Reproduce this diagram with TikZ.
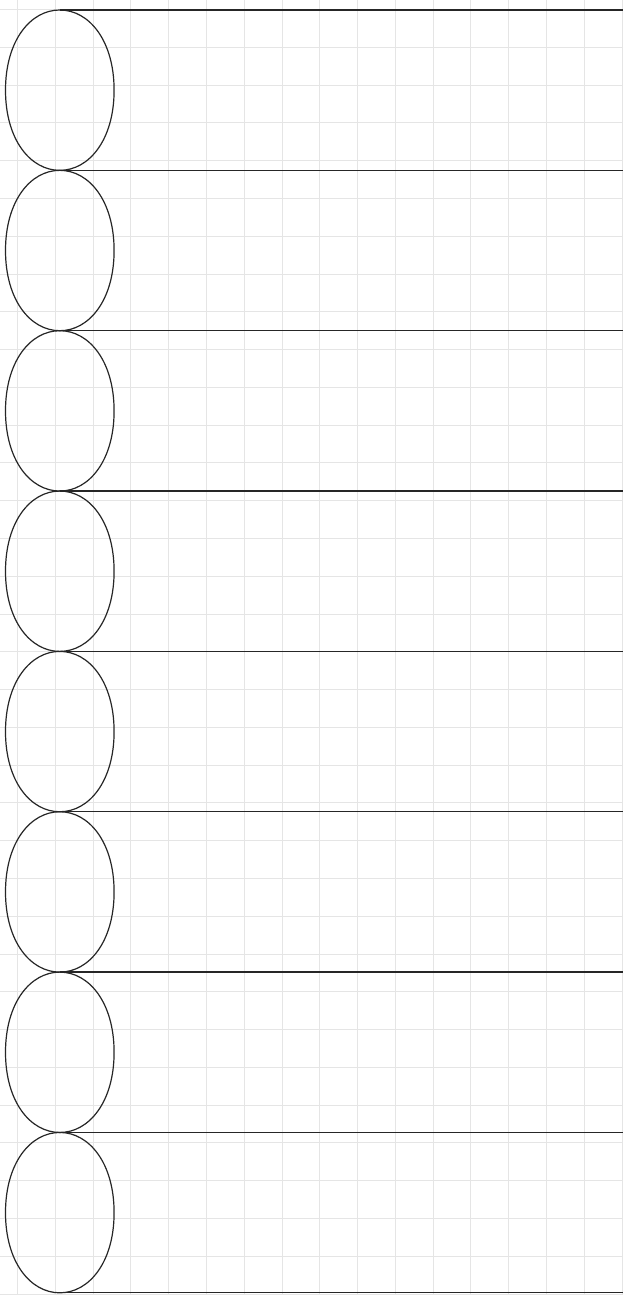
\documentclass[tikz,border=0pt]{standalone}
\begin{document}
\begin{tikzpicture}[x=1pt,y=-1pt,
  gridline/.style={draw=black!10,line width=0.9pt},
  eggline/.style={draw=black!85,line width=1.2pt},
  rowline/.style={draw=black!85,line width=1.3pt}]
\useasboundingbox (0,0) rectangle (623,1295);
\fill[white] (0,0) rectangle (623,1295);
% background grid
\foreach \k in {0,...,16} {
  \draw[gridline] ({17.5+37.78*\k},0) -- ({17.5+37.78*\k},1295);
}
\foreach \k in {0,...,34} {
  \draw[gridline] (0,{9.5+37.78*\k}) -- (623,{9.5+37.78*\k});
}
% row lines
\foreach \i in {0,...,8} {
  \coordinate (t\i) at (59.8,{10+160.35*\i});
  \coordinate (e\i) at (623,{10+160.35*\i});
  \draw[rowline] (t\i) -- (e\i);
}
% eggs
\foreach \i in {0,...,7} {
  \pgfmathsetmacro{\t}{10+160.35*\i}
  \draw[eggline] (59.8,\t)
    .. controls (30.5,\t) and (5.5,\t+30.5) .. (5.5,\t+80.2)
    .. controls (5.5,\t+129.8) and (30.5,\t+160.35) .. (59.8,\t+160.35)
    .. controls (89.1,\t+160.35) and (114.1,\t+129.8) .. (114.1,\t+80.2)
    .. controls (114.1,\t+30.5) and (89.1,\t) .. (59.8,\t) -- cycle;
}
\end{tikzpicture}
\end{document}
